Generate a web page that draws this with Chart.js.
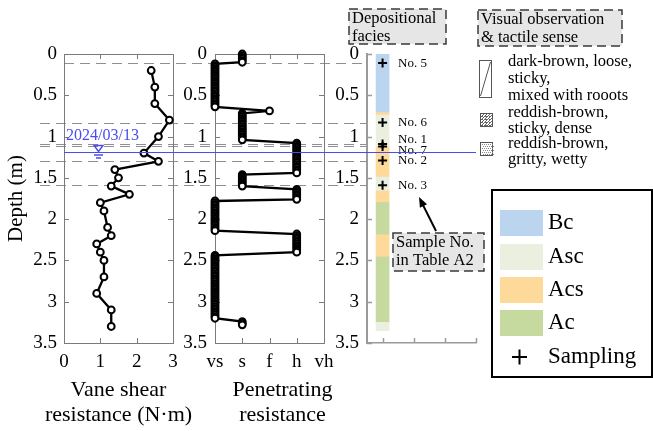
<!DOCTYPE html>
<html>
<head>
<meta charset="utf-8">
<script src="https://cdn.jsdelivr.net/npm/chart.js@4.4.1/dist/chart.umd.min.js"></script>
<style>
  html, body { margin: 0; padding: 0; background: #fff; }
  #wrap { position: relative; width: 653px; height: 431px; }
  #wrap canvas { position: absolute; left: 0; top: 0; }
</style>
</head>
<body>
<div id="wrap">
  <canvas id="cVane" width="653" height="431"></canvas>
  <canvas id="cPen" width="653" height="431"></canvas>
  <canvas id="cFacies" width="653" height="431"></canvas>
</div>
<script>
// ---------- data ----------
const depthMax = 3.5;
const depthStep = 0.5;

// vane shear resistance (N·m) against depth (m)
const vaneDepth = [0.2, 0.4, 0.6, 0.8, 1.0, 1.2, 1.3, 1.4, 1.5, 1.6, 1.7, 1.8, 1.9, 2.1, 2.2, 2.3, 2.4, 2.5, 2.7, 2.9, 3.1, 3.3];
const vaneValue = [2.4, 2.5, 2.5, 2.9, 2.6, 2.2, 2.6, 1.4, 1.5, 1.3, 1.8, 1.0, 1.1, 1.2, 1.3, 0.9, 1.0, 1.1, 1.1, 0.9, 1.3, 1.3];
const vaneTicks = [0, 1, 2, 3];

// penetrating resistance classes and the logged runs (class + depths of each reading)
const penLevels = ['vs', 's', 'f', 'h', 'vh'];
const penRunLevel = ['s', 'vs', 'f', 's', 'h', 's', 'h', 'vs', 'h', 'vs', 's'];
const penRunDepths = [
  [0.00, 0.02, 0.04, 0.06, 0.08, 0.10],
  [0.12, 0.14, 0.16, 0.18, 0.20, 0.22, 0.24, 0.26, 0.28, 0.30, 0.32, 0.34, 0.36, 0.38, 0.40, 0.42, 0.44, 0.46, 0.48, 0.50, 0.52, 0.54, 0.56, 0.58, 0.60, 0.62, 0.64],
  [0.69],
  [0.72, 0.74, 0.76, 0.78, 0.80, 0.82, 0.84, 0.86, 0.88, 0.90, 0.92, 0.94, 0.96, 0.98, 1.00, 1.02, 1.04],
  [1.08, 1.10, 1.12, 1.14, 1.16, 1.18, 1.20, 1.22, 1.24, 1.26, 1.28, 1.30, 1.32, 1.34, 1.36, 1.38, 1.40, 1.42, 1.44],
  [1.46, 1.48, 1.50, 1.52, 1.54, 1.56, 1.58, 1.60],
  [1.64, 1.66, 1.68, 1.70, 1.72, 1.74, 1.76],
  [1.78, 1.80, 1.82, 1.84, 1.86, 1.88, 1.90, 1.92, 1.94, 1.96, 1.98, 2.00, 2.02, 2.04, 2.06, 2.08, 2.10, 2.12, 2.14],
  [2.18, 2.20, 2.22, 2.24, 2.26, 2.28, 2.30, 2.32, 2.34, 2.36, 2.38, 2.40],
  [2.44, 2.46, 2.48, 2.50, 2.52, 2.54, 2.56, 2.58, 2.60, 2.62, 2.64, 2.66, 2.68, 2.70, 2.72, 2.74, 2.76, 2.78, 2.80, 2.82, 2.84, 2.86, 2.88, 2.90, 2.92, 2.94, 2.96, 2.98, 3.00, 3.02, 3.04, 3.06, 3.08, 3.10, 3.12, 3.14, 3.16, 3.18, 3.20],
  [3.24, 3.26, 3.28]
];

// depositional facies intervals (m)
const faciesNames = ['Bc', 'Asc', 'Acs', 'Ac'];
const faciesType = ['Bc', 'Acs', 'Asc', 'Acs', 'Asc', 'Acs', 'Ac', 'Acs', 'Ac', 'Asc'];
const faciesTop = [0.00, 0.70, 0.74, 1.12, 1.49, 1.65, 1.79, 2.19, 2.45, 3.25];
const faciesBottom = [0.70, 0.74, 1.12, 1.49, 1.65, 1.79, 2.19, 2.45, 3.25, 3.35];

// sampling points
const sampleNo = ['No. 5', 'No. 6', 'No. 1', 'No. 7', 'No. 2', 'No. 3'];
const sampleDepth = [0.11, 0.83, 1.09, 1.12, 1.29, 1.59];

// groundwater level
const waterDepth = 1.19;
const waterDate = '2024/03/13';

// ---------- styling ----------
const faciesColor = { Bc: '#bcd5ee', Asc: '#ebefdf', Acs: '#fdd99a', Ac: '#c6da9f' };
const frameColor = '#7a7a7a';
const waterColor = '#4b4bf2';
const serif = '"Liberation Serif", "Times New Roman", serif';
const tickFont = { family: serif, size: 19 };

const CANVAS_W = 653;
const AREA_TOP = 54;
const XAXIS_H = 88;

const plainNumber = v => String(v);

function depthAxis(width, pad, extra) {
  return Object.assign({
    type: 'linear', position: 'left', reverse: true, min: 0, max: depthMax,
    ticks: { stepSize: depthStep, padding: pad, font: tickFont, color: '#000', callback: plainNumber },
    grid: { display: false, drawTicks: false },
    border: { display: false },
    afterFit: s => { s.width = width; }
  }, extra || {});
}

// boxed frame with inward ticks on all four sides
const boxFrame = {
  id: 'boxFrame',
  beforeDatasetsDraw(chart) {
    const { ctx, chartArea: a, scales } = chart;
    ctx.save();
    ctx.strokeStyle = frameColor;
    ctx.lineWidth = 1;
    ctx.strokeRect(Math.round(a.left) + 0.5, Math.round(a.top) + 0.5, Math.round(a.width), Math.round(a.height));
    ctx.beginPath();
    scales.x.ticks.forEach(t => {
      const x = Math.round(scales.x.getPixelForValue(t.value)) + 0.5;
      ctx.moveTo(x, a.bottom); ctx.lineTo(x, a.bottom - 5);
      ctx.moveTo(x, a.top); ctx.lineTo(x, a.top + 5);
    });
    scales.y.ticks.forEach(t => {
      const y = Math.round(scales.y.getPixelForValue(t.value)) + 0.5;
      ctx.moveTo(a.left, y); ctx.lineTo(a.left + 5, y);
      ctx.moveTo(a.right, y); ctx.lineTo(a.right - 5, y);
    });
    ctx.stroke();
    ctx.restore();
  }
};

// dashed guide lines at each sampling depth, across the profile panels
const samplingLines = {
  id: 'samplingLines',
  beforeDatasetsDraw(chart) {
    const { ctx, chartArea: a, scales } = chart;
    ctx.save();
    ctx.strokeStyle = '#8f8f8f';
    ctx.lineWidth = 1;
    ctx.setLineDash([10, 6]);
    sampleDepth.forEach((d, i) => {
      const y = Math.round(scales.y.getPixelForValue(d)) + 0.5;
      ctx.beginPath();
      ctx.moveTo(i === 0 ? a.left : 40, y);
      ctx.lineTo(366, y);
      ctx.stroke();
    });
    ctx.restore();
  }
};

// two-line axis caption under a panel, centred on a given x
function caption(lines, dx) {
  return {
    id: 'caption',
    afterDraw(chart) {
      const { ctx, chartArea: a } = chart;
      ctx.save();
      ctx.font = '22px ' + serif;
      ctx.fillStyle = '#000';
      ctx.textAlign = 'center';
      ctx.textBaseline = 'middle';
      const cx = (a.left + a.right) / 2 + dx;
      lines.forEach((t, i) => ctx.fillText(t, cx, 390 + i * 25));
      ctx.restore();
    }
  };
}

const lineStyle = {
  borderColor: '#000', borderWidth: 2.3, tension: 0,
  pointRadius: 3.4, pointBorderWidth: 2, pointBorderColor: '#000', pointBackgroundColor: '#fff',
  clip: false
};

function dashedBox(ctx, x, y, w, h, lines, size) {
  ctx.save();
  ctx.fillStyle = '#e6e6e6';
  ctx.fillRect(x, y, w, h);
  ctx.strokeStyle = '#3a3a3a';
  ctx.lineWidth = 1.5;
  ctx.setLineDash([9, 5]);
  ctx.strokeRect(x, y, w, h);
  ctx.setLineDash([]);
  ctx.fillStyle = '#000';
  ctx.font = size + 'px ' + serif;
  ctx.textBaseline = 'middle';
  ctx.textAlign = 'left';
  lines.forEach((t, i) => ctx.fillText(t, x + 3, y + 10 + i * 17.5));
  ctx.restore();
}

function build() {
  Chart.defaults.font.family = serif;
  Chart.defaults.color = '#000';
  Chart.defaults.animation = false;

  // ---------- panel 1: vane shear ----------
  const vaneChart = new Chart(document.getElementById('cVane'), {
    type: 'line',
    data: { datasets: [Object.assign({ data: vaneDepth.map((d, i) => ({ x: vaneValue[i], y: d })) }, lineStyle)] },
    options: {
      responsive: false, devicePixelRatio: 1, animation: false,
      layout: { padding: { left: 0, top: AREA_TOP, right: CANVAS_W - 173, bottom: 0 } },
      plugins: { legend: { display: false }, tooltip: { enabled: false } },
      scales: {
        x: {
          type: 'linear', position: 'bottom', min: vaneTicks[0], max: vaneTicks[vaneTicks.length - 1],
          ticks: { stepSize: 1, padding: 8, font: tickFont, color: '#000', callback: plainNumber },
          grid: { display: false, drawTicks: false }, border: { display: false },
          afterFit: s => { s.height = XAXIS_H; }
        },
        y: depthAxis(64, 7, { title: { display: true, text: 'Depth (m)', color: '#000', font: { family: serif, size: 21 }, padding: { top: 4, bottom: 0 } } })
      }
    },
    plugins: [samplingLines, boxFrame, caption(['Vane shear', 'resistance (N·m)'], 0)]
  });

  // ---------- panel 2: penetrating resistance ----------
  const penPoints = [];
  penRunDepths.forEach((run, r) => {
    const lv = penLevels.indexOf(penRunLevel[r]);
    run.forEach(d => penPoints.push({ x: lv, y: d }));
  });

  new Chart(document.getElementById('cPen'), {
    type: 'line',
    data: { datasets: [Object.assign({ data: penPoints }, lineStyle)] },
    options: {
      responsive: false, devicePixelRatio: 1, animation: false,
      layout: { padding: { left: 0, top: AREA_TOP, right: CANVAS_W - 324, bottom: 0 } },
      plugins: { legend: { display: false }, tooltip: { enabled: false } },
      scales: {
        x: {
          type: 'linear', position: 'bottom', min: 0, max: penLevels.length - 1,
          ticks: { stepSize: 1, padding: 8, font: tickFont, color: '#000', callback: v => penLevels[v] },
          grid: { display: false, drawTicks: false }, border: { display: false },
          afterFit: s => { s.height = XAXIS_H; }
        },
        y: depthAxis(215, 8)
      }
    },
    plugins: [boxFrame, caption(['Penetrating', 'resistance'], 13)]
  });

  // ---------- panel 3: depositional facies, annotations and legends ----------
  const faciesDecor = {
    id: 'faciesDecor',
    beforeDatasetsDraw(chart) {
      const { ctx, chartArea: a, scales } = chart;
      ctx.save();
      ctx.strokeStyle = '#9a9a9a';
      ctx.lineWidth = 1.5;
      ctx.beginPath();
      scales.y.ticks.forEach(t => {
        const y = Math.round(scales.y.getPixelForValue(t.value)) + 0.5;
        ctx.moveTo(a.left, y); ctx.lineTo(a.left + 5, y);
      });
      [1, 2, 3, 4].forEach(v => {
        const x = Math.round(scales.x.getPixelForValue(v)) + 0.5;
        ctx.moveTo(x, a.bottom); ctx.lineTo(x, a.bottom - 5);
      });
      ctx.stroke();
      ctx.restore();
    },
    afterDraw(chart) {
      const { ctx, chartArea: a, scales } = chart;
      const ys = scales.y;
      ctx.save();

      // sample numbers
      const labelDy = [0, 0, -4, 4, 0, 0];
      ctx.font = '13px ' + serif;
      ctx.fillStyle = '#000';
      ctx.textBaseline = 'middle';
      ctx.textAlign = 'left';
      sampleNo.forEach((t, i) => ctx.fillText(t, 398, ys.getPixelForValue(sampleDepth[i]) + labelDy[i]));

      // groundwater line and marker
      const wy = Math.round(ys.getPixelForValue(waterDepth)) + 0.5;
      const vx = vaneChart.scales.x;
      ctx.strokeStyle = waterColor;
      ctx.lineWidth = 1;
      ctx.beginPath();
      ctx.moveTo(vx.getPixelForValue(vx.min), wy);
      ctx.lineTo(a.right, wy);
      ctx.stroke();
      const mx = vx.getPixelForValue(0.95);
      ctx.lineWidth = 1.4;
      ctx.beginPath();
      ctx.moveTo(mx - 4.5, wy - 7); ctx.lineTo(mx + 4.5, wy - 7); ctx.lineTo(mx, wy - 1); ctx.closePath();
      ctx.stroke();
      ctx.beginPath();
      ctx.moveTo(mx - 4.5, wy + 2.5); ctx.lineTo(mx + 4.5, wy + 2.5);
      ctx.moveTo(mx - 2.5, wy + 5.5); ctx.lineTo(mx + 2.5, wy + 5.5);
      ctx.stroke();
      ctx.fillStyle = waterColor;
      ctx.font = '16px ' + serif;
      ctx.fillText(waterDate, vx.getPixelForValue(vx.min) + 2, wy - 17);

      // headings
      dashedBox(ctx, 349, 9, 97, 35, ['Depositional', 'facies'], 16.5);
      dashedBox(ctx, 478, 10, 144, 36, ['Visual observation', '& tactile sense'], 16.5);

      // visual observation key
      ctx.strokeStyle = '#555';
      ctx.lineWidth = 1;
      ctx.strokeRect(479.5, 60.5, 12, 37);
      ctx.beginPath(); ctx.moveTo(480.5, 96); ctx.lineTo(490.5, 62); ctx.stroke();

      ctx.strokeRect(480.5, 113.5, 12, 13);
      ctx.save();
      ctx.beginPath(); ctx.rect(481, 114, 11, 12); ctx.clip();
      ctx.strokeStyle = '#666';
      ctx.beginPath();
      for (let k = -12; k < 14; k += 3) { ctx.moveTo(481 + k, 126); ctx.lineTo(493 + k, 114); }
      ctx.stroke();
      ctx.setLineDash([2, 2]);
      ctx.beginPath();
      for (let k = 116; k < 126; k += 3) { ctx.moveTo(481, k + 0.5); ctx.lineTo(493, k + 0.5); }
      ctx.stroke();
      ctx.restore();

      ctx.strokeRect(480.5, 142.5, 12, 13);
      ctx.fillStyle = '#8a8a8a';
      for (let r = 0; r < 6; r++) {
        for (let c = 0; c < 6; c++) {
          ctx.fillRect(482 + c * 2 + (r % 2), 144 + r * 2, 1, 1);
        }
      }

      ctx.fillStyle = '#000';
      ctx.font = '16.5px ' + serif;
      ctx.textBaseline = 'middle';
      [['dark-brown, loose,', 62], ['sticky,', 79], ['mixed with rooots', 96],
       ['reddish-brown,', 113], ['sticky, dense', 129],
       ['reddish-brown,', 144], ['gritty, wetty', 160]].forEach(([t, y]) => ctx.fillText(t, 508, y));

      // sample-number note with arrow
      dashedBox(ctx, 393, 233, 91, 38, ['Sample No.', 'in Table A2'], 16.5);
      ctx.strokeStyle = '#000';
      ctx.fillStyle = '#000';
      ctx.lineWidth = 2;
      const ax0 = 436, ay0 = 231, ax1 = 419, ay1 = 197;
      const ang = Math.atan2(ay1 - ay0, ax1 - ax0);
      ctx.beginPath(); ctx.moveTo(ax0, ay0); ctx.lineTo(ax1 - 6 * Math.cos(ang), ay1 - 6 * Math.sin(ang)); ctx.stroke();
      ctx.beginPath();
      ctx.moveTo(ax1, ay1);
      ctx.lineTo(ax1 - 10 * Math.cos(ang) + 4 * Math.sin(ang), ay1 - 10 * Math.sin(ang) - 4 * Math.cos(ang));
      ctx.lineTo(ax1 - 10 * Math.cos(ang) - 4 * Math.sin(ang), ay1 - 10 * Math.sin(ang) + 4 * Math.cos(ang));
      ctx.closePath(); ctx.fill();

      // facies legend
      ctx.lineWidth = 2;
      ctx.strokeRect(492, 190, 160, 187);
      ctx.font = '23px ' + serif;
      const rowY = [223, 257, 290, 323];
      chart.data.datasets.slice(0, faciesNames.length).forEach((ds, i) => {
        ctx.fillStyle = ds.backgroundColor;
        ctx.fillRect(500, rowY[i] - 13, 43, 26);
        ctx.fillStyle = '#000';
        ctx.fillText(ds.label, 548, rowY[i]);
      });
      ctx.beginPath();
      ctx.moveTo(512, 357); ctx.lineTo(527, 357);
      ctx.moveTo(519.5, 349.5); ctx.lineTo(519.5, 364.5);
      ctx.stroke();
      ctx.fillText('Sampling', 548, 357);

      ctx.restore();
    }
  };

  const faciesDatasets = faciesNames.map(name => ({
    type: 'bar',
    label: name,
    order: 2,
    data: faciesType.map((t, i) => t === name ? { x: 1, y: [faciesTop[i], faciesBottom[i]] } : null).filter(Boolean),
    backgroundColor: faciesColor[name],
    borderWidth: 0,
    barThickness: 13,
    grouped: false
  }));

  new Chart(document.getElementById('cFacies'), {
    type: 'bar',
    data: {
      datasets: faciesDatasets.concat([{
        type: 'scatter',
        label: 'Sampling',
        order: 0,
        data: sampleDepth.map(d => ({ x: 1, y: d })),
        pointStyle: 'cross', pointRadius: 4.5, pointBorderWidth: 2,
        borderColor: '#000', backgroundColor: '#000', clip: false
      }])
    },
    options: {
      responsive: false, devicePixelRatio: 1, animation: false,
      layout: { padding: { left: 0, top: AREA_TOP, right: CANVAS_W - 476, bottom: 0 } },
      plugins: { legend: { display: false }, tooltip: { enabled: false } },
      scales: {
        x: {
          type: 'linear', position: 'bottom', min: 0.5, max: 4, offset: false,
          ticks: { display: false },
          grid: { display: false, drawTicks: false, offset: false },
          border: { display: true, color: '#9a9a9a', width: 1.5 },
          afterFit: s => { s.height = XAXIS_H; }
        },
        y: depthAxis(367, 8, { border: { display: true, color: '#9a9a9a', width: 2 } })
      }
    },
    plugins: [faciesDecor]
  });
}

// make sure the serif face is ready before anything is drawn
Promise.all([
  document.fonts.load('19px "Liberation Serif"'),
  document.fonts.load('22px "Liberation Serif"')
]).catch(() => {}).then(build);
</script>
</body>
</html>
